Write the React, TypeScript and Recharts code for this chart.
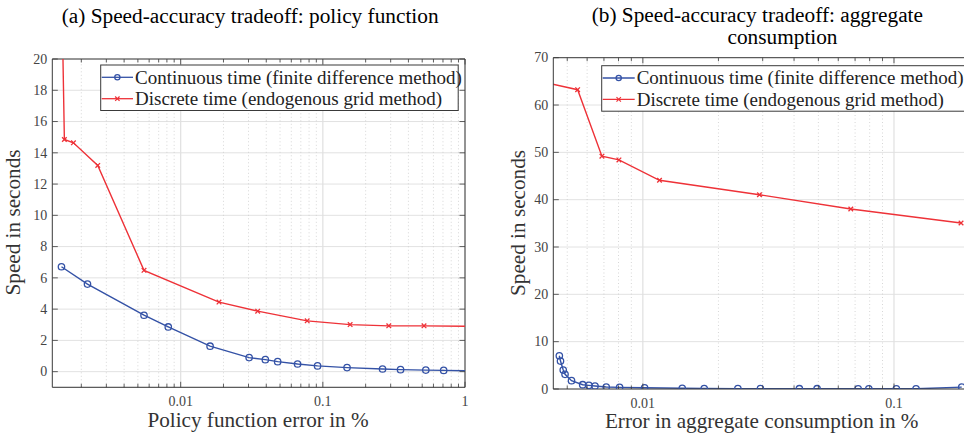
import React from 'react';
import { LineChart, Line, XAxis, YAxis, CartesianGrid, ReferenceLine } from 'recharts';

// ---------- Panel (a): policy function ----------
const policyContX = [0.00145, 0.00221, 0.00552, 0.00818, 0.0161, 0.0303, 0.0394, 0.0481, 0.0664, 0.0918, 0.148, 0.263, 0.352, 0.53, 0.708, 1.3];
const policyContY = [6.71, 5.6, 3.61, 2.86, 1.63, 0.9, 0.77, 0.64, 0.49, 0.37, 0.26, 0.17, 0.13, 0.1, 0.08, 0.05];
const policyDiscX = [0.00146, 0.00152, 0.00176, 0.00261, 0.00552, 0.0186, 0.0348, 0.0776, 0.1556, 0.291, 0.515, 1.3];
const policyDiscY = [24, 14.85, 14.64, 13.19, 6.48, 4.45, 3.87, 3.25, 3.01, 2.93, 2.93, 2.89];

// ---------- Panel (b): aggregate consumption ----------
const aggContX = [0.00465, 0.0047, 0.00482, 0.0049, 0.0052, 0.00576, 0.0061, 0.00645, 0.00715, 0.00808, 0.01016, 0.01435, 0.01755, 0.0239, 0.0294, 0.042, 0.0494, 0.072, 0.0794, 0.1022, 0.1224, 0.1861];
const aggContY = [7.03, 5.9, 4.0, 3.1, 1.76, 0.91, 0.77, 0.63, 0.42, 0.35, 0.25, 0.15, 0.1, 0.08, 0.07, 0.06, 0.06, 0.05, 0.05, 0.05, 0.04, 0.4];
const aggDiscX = [0.0042, 0.0055, 0.00687, 0.00803, 0.01165, 0.02913, 0.0673, 0.1849];
const aggDiscY = [64.6, 63.24, 49.2, 48.4, 44.1, 41.05, 38.03, 35.07];

// ---------- Axis ticks ----------
const policyMajorX = [0.01, 0.1, 1];
const policyMajorXLabels = ['0.01', '0.1', '1'];
const policyMinorX = [0.002, 0.003, 0.004, 0.005, 0.006, 0.007, 0.008, 0.009, 0.02, 0.03, 0.04, 0.05, 0.06, 0.07, 0.08, 0.09, 0.2, 0.3, 0.4, 0.5, 0.6, 0.7, 0.8, 0.9];
const policyYTicks = [0, 2, 4, 6, 8, 10, 12, 14, 16, 18, 20];

const aggMajorX = [0.01, 0.1];
const aggMajorXLabels = ['0.01', '0.1'];
const aggMinorX = [0.005, 0.006, 0.007, 0.008, 0.009, 0.02, 0.03, 0.04, 0.05, 0.06, 0.07, 0.08, 0.09];
const aggYTicks = [0, 10, 20, 30, 40, 50, 60, 70];

const seriesNames = ['Continuous time (finite difference method)', 'Discrete time (endogenous grid method)'];

const BLUE = '#3452a6';
const RED = '#ee3238';
const AXIS = '#3a3a3a';
const TXT = '#444';
const FONT = '"Liberation Serif", "Times New Roman", serif';

const zip = (xs: number[], ys: number[]) => xs.map((x, i) => ({ x, y: ys[i] }));

const CircleDot = (p: any) => {
  if (p.cx == null || p.cy == null) return <g key={p.index} />;
  return <circle key={p.index} cx={p.cx} cy={p.cy} r={3.2} fill="none" stroke={BLUE} strokeWidth={1.3} />;
};
const CrossDot = (p: any) => {
  if (p.cx == null || p.cy == null) return <g key={p.index} />;
  const s = 2.3;
  return (
    <g key={p.index}>
      <line x1={p.cx - s} y1={p.cy - s} x2={p.cx + s} y2={p.cy + s} stroke={RED} strokeWidth={1.3} />
      <line x1={p.cx - s} y1={p.cy + s} x2={p.cx + s} y2={p.cy - s} stroke={RED} strokeWidth={1.3} />
    </g>
  );
};

const makeXTick = (majors: number[], labels: string[], top: number, bottom: number) => (props: any) => {
  const { x, payload } = props;
  const idx = majors.indexOf(payload.value);
  const major = idx >= 0;
  const len = major ? 5.5 : 3.5;
  return (
    <g>
      <line x1={x} x2={x} y1={bottom} y2={bottom - len} stroke={AXIS} strokeWidth={0.8} />
      <line x1={x} x2={x} y1={top} y2={top + len} stroke={AXIS} strokeWidth={0.8} />
      {major && (
        <text x={x} y={bottom + 18.5} textAnchor="middle" fontFamily={FONT} fontSize={14} fill={TXT}>
          {labels[idx]}
        </text>
      )}
    </g>
  );
};

const makeYTick = (left: number, right: number) => (props: any) => {
  const { y, payload } = props;
  return (
    <g>
      <line x1={left} x2={left + 5.5} y1={y} y2={y} stroke={AXIS} strokeWidth={0.8} />
      <line x1={right} x2={right - 5.5} y1={y} y2={y} stroke={AXIS} strokeWidth={0.8} />
      <text x={left - 5} y={y} dy="0.34em" textAnchor="end" fontFamily={FONT} fontSize={14} fill={TXT}>
        {payload.value}
      </text>
    </g>
  );
};

const Legend = ({ x, y, w, textX }: { x: number; y: number; w: number; textX: number }) => {
  const r1 = y + 12.3;
  const r2 = y + 33.7;
  const lx1 = x + 1;
  const lx2 = textX - 2;
  const mx = (lx1 + lx2) / 2;
  const s = 2.2;
  return (
    <g>
      <rect x={x} y={y} width={w} height={45.5} fill="#fff" stroke={AXIS} strokeWidth={1} />
      <line x1={lx1} x2={lx2} y1={r1} y2={r1} stroke={BLUE} strokeWidth={1.3} />
      <circle cx={mx} cy={r1} r={2.6} fill="none" stroke={BLUE} strokeWidth={1.3} />
      <text x={textX} y={r1} dy="0.33em" fontFamily={FONT} fontSize={19} fill="#222">{seriesNames[0]}</text>
      <line x1={lx1} x2={lx2} y1={r2} y2={r2} stroke={RED} strokeWidth={1.3} />
      <line x1={mx - s} y1={r2 - s} x2={mx + s} y2={r2 + s} stroke={RED} strokeWidth={1.2} />
      <line x1={mx - s} y1={r2 + s} x2={mx + s} y2={r2 - s} stroke={RED} strokeWidth={1.2} />
      <text x={textX} y={r2} dy="0.33em" fontFamily={FONT} fontSize={19} fill="#222">{seriesNames[1]}</text>
    </g>
  );
};

export default function App() {
  // Panel (a) geometry
  const aTop = 59;
  const aBottom = 387.3;
  const aLeft = 52.3;
  const aRight = 465;
  // Panel (b) geometry (chart-local)
  const bTop = 57.7;
  const bBottom = 389;
  const bLeft = 63.3;
  const bRight = 474;

  return (
    <div style={{ position: 'fixed', left: 0, top: 0, width: 964, height: 433, background: '#fff', overflow: 'hidden' }}>
      <div style={{ position: 'absolute', left: 0, top: 0 }}>
        <LineChart width={480} height={433} margin={{ top: aTop, right: 480 - aRight, bottom: 433 - aBottom - 30, left: 0 }}>
          <CartesianGrid vertical={false} stroke="#e2e2e2" strokeWidth={1} />
          {policyMinorX.map((v) => (
            <ReferenceLine key={'m' + v} x={v} stroke="#cdcdcd" strokeDasharray="1 2.5" strokeWidth={0.8} />
          ))}
          {policyMajorX.map((v) => (
            <ReferenceLine key={'M' + v} x={v} stroke="#e0e0e0" strokeWidth={1.2} />
          ))}
          <ReferenceLine y={20} stroke={AXIS} strokeWidth={1} />
          <ReferenceLine x={1} stroke={AXIS} strokeWidth={1} />
          <XAxis
            dataKey="x"
            type="number"
            scale="log"
            domain={[0.00125, 1]}
            allowDataOverflow
            ticks={[...policyMinorX, ...policyMajorX].sort((a, b) => a - b)}
            interval={0}
            height={30}
            tickLine={false}
            axisLine={{ stroke: AXIS, strokeWidth: 1 }}
            tick={makeXTick(policyMajorX, policyMajorXLabels, aTop, aBottom)}
          />
          <YAxis
            type="number"
            domain={[-1, 20]}
            allowDataOverflow
            ticks={policyYTicks}
            interval={0}
            width={aLeft}
            tickLine={false}
            axisLine={{ stroke: AXIS, strokeWidth: 1 }}
            tick={makeYTick(aLeft, aRight)}
          />
          <Line data={zip(policyContX, policyContY)} dataKey="y" stroke={BLUE} strokeWidth={1.4} dot={CircleDot} activeDot={false} isAnimationActive={false} />
          <Line data={zip(policyDiscX, policyDiscY)} dataKey="y" stroke={RED} strokeWidth={1.4} dot={CrossDot} activeDot={false} isAnimationActive={false} />
        </LineChart>
      </div>

      <div style={{ position: 'absolute', left: 490, top: 0 }}>
        <LineChart width={474} height={433} margin={{ top: bTop, right: 474 - bRight, bottom: 433 - bBottom - 30, left: 0 }}>
          <CartesianGrid vertical={false} stroke="#e2e2e2" strokeWidth={1} />
          {aggMinorX.map((v) => (
            <ReferenceLine key={'m' + v} x={v} stroke="#cdcdcd" strokeDasharray="1 2.5" strokeWidth={0.8} />
          ))}
          {aggMajorX.map((v) => (
            <ReferenceLine key={'M' + v} x={v} stroke="#e0e0e0" strokeWidth={1.2} />
          ))}
          <ReferenceLine y={70} stroke={AXIS} strokeWidth={1} />
          <XAxis
            dataKey="x"
            type="number"
            scale="log"
            domain={[0.0044, 0.19]}
            allowDataOverflow
            ticks={[...aggMinorX, ...aggMajorX].sort((a, b) => a - b)}
            interval={0}
            height={30}
            tickLine={false}
            axisLine={{ stroke: AXIS, strokeWidth: 1 }}
            tick={makeXTick(aggMajorX, aggMajorXLabels, bTop, bBottom)}
          />
          <YAxis
            type="number"
            domain={[0, 70]}
            allowDataOverflow
            ticks={aggYTicks}
            interval={0}
            width={bLeft}
            tickLine={false}
            axisLine={{ stroke: AXIS, strokeWidth: 1 }}
            tick={makeYTick(bLeft, bRight + 10)}
          />
          <Line data={zip(aggContX, aggContY)} dataKey="y" stroke={BLUE} strokeWidth={1.4} dot={CircleDot} activeDot={false} isAnimationActive={false} />
          <Line data={zip(aggDiscX, aggDiscY)} dataKey="y" stroke={RED} strokeWidth={1.4} dot={CrossDot} activeDot={false} isAnimationActive={false} />
        </LineChart>
      </div>

      <svg width={964} height={433} style={{ position: 'absolute', left: 0, top: 0, pointerEvents: 'none' }}>
        <text x={61.7} y={23} fontFamily={FONT} fontSize={21.3} fill="#000">(a) Speed-accuracy tradeoff: policy function</text>
        <text x={591.7} y={22} fontFamily={FONT} fontSize={21.3} fill="#000">(b) Speed-accuracy tradeoff: aggregate</text>
        <text x={782.5} y={44} textAnchor="middle" fontFamily={FONT} fontSize={21.3} fill="#000">consumption</text>

        <text x={258} y={427} textAnchor="middle" fontFamily={FONT} fontSize={21.2} fill="#333">Policy function error in %</text>
        <text x={761.7} y={428} textAnchor="middle" fontFamily={FONT} fontSize={21.2} fill="#333">Error in aggregate consumption in %</text>
        <text transform="translate(20,222.5) rotate(-90)" textAnchor="middle" fontFamily={FONT} fontSize={21.2} fill="#333">Speed in seconds</text>
        <text transform="translate(525,223) rotate(-90)" textAnchor="middle" fontFamily={FONT} fontSize={21.2} fill="#333">Speed in seconds</text>

        <Legend x={100.7} y={65} w={357.5} textX={135} />
        <Legend x={601.7} y={65.7} w={370} textX={636.7} />
      </svg>
    </div>
  );
}
